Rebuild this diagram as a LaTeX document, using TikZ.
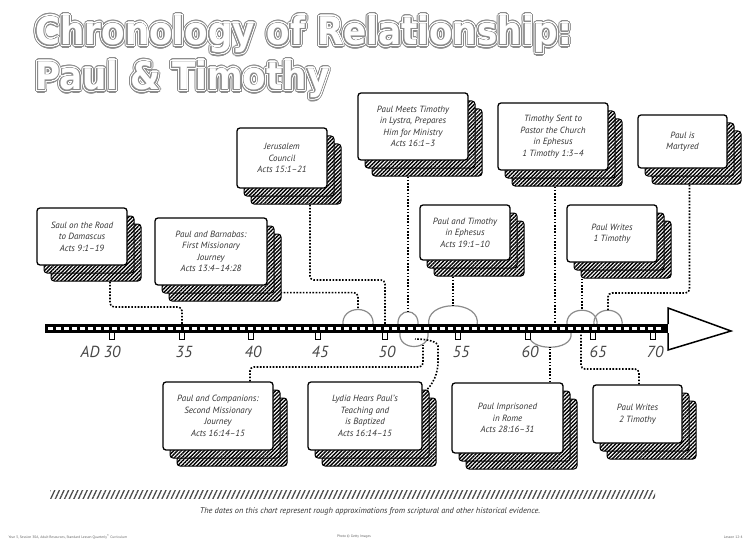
\documentclass[tikz,border=0pt]{standalone}
\usepackage{fontspec}
\usepackage{graphicx}
\usepackage[copies]{contour}
\setmainfont{PT Sans}
\usetikzlibrary{patterns.meta}
\pgfdeclarelayer{bg}
\pgfdeclarelayer{back}
\pgfsetlayers{bg,back,main}
\font\tD="DejaVu Sans/B" at 38pt
\contournumber{32}
\newcommand\cardtxt{\fontsize{9}{11.5}\selectfont\itshape}
\newcommand\yeartxt{\fontsize{16}{16}\selectfont\itshape}
\newcommand\captxt{\fontsize{8.3}{9}\selectfont\itshape}
\newcommand\foottxt{\fontsize{3.6}{4}\selectfont}
\tikzset{
  cardfront/.style={draw=black, line width=1.3pt, fill=white, rounded corners=3pt, inner sep=0pt, align=center, font=\cardtxt, text=black!80},
  cardback/.style={draw=black, line width=1pt, rounded corners=3pt, pattern={Lines[angle=45,distance=2.7pt,line width=1.4pt]}},
  dotconn/.style={line width=1.6pt, dash pattern=on 1.6pt off 1.6pt, rounded corners=4pt},
  spanarc/.style={draw=black!45, line width=1.2pt},
  yearlbl/.style={font=\yeartxt, text=black!72, anchor=base},
  tickmark/.style={draw=black, line width=1pt, fill=white},
  titlelayer/.style={anchor=base west, inner sep=0pt},
}
\colorlet{titlegray}{black!45}
\newcommand\mycard[6]{%
  \foreach \sx/\sy in {14/16,7/8}{%
    \fill[white, rounded corners=3pt] (#2+\sx,#3+\sy) rectangle (#4+\sx,#5+\sy);
    \draw[cardback] (#2+\sx,#3+\sy) rectangle (#4+\sx,#5+\sy);
  }
  \node[cardfront, minimum width={(#4-#2)*1pt}, minimum height={(#5-#3)*1pt}] (#1) at ({(#2+#4)/2},{(#3+#5)/2}) {#6};
}
\newcommand\titleline[4]{%
  \node[titlelayer, text=titlegray] (#1a) at (#2,#3) {\scalebox{0.9}[1]{\contourlength{3.1pt}\contour{titlegray}{\tD #4}}};
  \node[titlelayer, text=white] (#1b) at (#2,#3) {\scalebox{0.9}[1]{\contourlength{2.0pt}\contour{white}{\tD #4}}};
  \node[titlelayer, text=titlegray] (#1c) at (#2,#3) {\scalebox{0.9}[1]{\contourlength{0.9pt}\contour{titlegray}{\tD #4}}};
  \node[titlelayer, text=white] (#1d) at (#2,#3) {\scalebox{0.9}[1]{\tD #4}};
}
\begin{document}
\begin{tikzpicture}[x=1pt,y=-1pt]
\begin{pgfonlayer}{bg}
\fill[white] (0,0) rectangle (751,548);
\end{pgfonlayer}
\useasboundingbox (0,0) rectangle (751,548);

% title
\titleline{ti}{35}{45}{Chronology of Relationship:}
\titleline{tj}{35}{90}{Paul \& Timothy}

% cards, top row
\mycard{saul}{37}{208}{127}{265}{Saul on the Road\\to Damascus\\Acts 9:1--19}
\mycard{pb}{155}{218}{267}{285}{Paul and Barnabas:\\First Missionary\\Journey\\Acts 13:4--14:28}
\mycard{jer}{237}{128}{327}{188}{Jerusalem\\Council\\Acts 15:1--21}
\mycard{meet}{358}{93}{468}{160}{Paul Meets Timothy\\in Lystra, Prepares\\Him for Ministry\\Acts 16:1--3}
\mycard{sent}{498}{103}{608}{170}{Timothy Sent to\\Pastor the Church\\in Ephesus\\1 Timothy 1:3--4}
\mycard{mart}{638}{115}{727}{168}{Paul is\\Martyred}
\mycard{eph}{420}{205}{510}{260}{Paul and Timothy\\in Ephesus\\Acts 19:1--10}
\mycard{wr1}{567}{205}{657}{262}{Paul Writes\\1 Timothy}
% cards, bottom row
\mycard{comp}{163}{382}{273}{450}{Paul and Companions:\\Second Missionary\\Journey\\Acts 16:14--15}
\mycard{lydia}{308}{382}{422}{450}{Lydia Hears Paul's\\Teaching and\\is Baptized\\Acts 16:14--15}
\mycard{rome}{452}{383}{563}{453}{Paul Imprisoned\\in Rome\\Acts 28:16--31}
\mycard{wr2}{593}{385}{682}{443}{Paul Writes\\2 Timothy}

% anchor points on the time line
\coordinate (t35) at (182,324);
\coordinate (t50) at (385,324);
\coordinate (t62) at (555,324);
\coordinate (t64) at (581,333);
\coordinate (arcA) at (358,309);
\coordinate (arcB) at (408,312);
\coordinate (arcC) at (453,306);
\coordinate (arcE) at (582,310);
\coordinate (arcF) at (608,310);
\coordinate (lowL) at (423,345);
\coordinate (lowLin) at (415,339);
\coordinate (lowR) at (550,347);

\begin{pgfonlayer}{back}
  % span arcs
  \draw[spanarc] (343,326) .. controls (340,304) and (376,304) .. (373,326);
  \draw[spanarc] (398,326) .. controls (396,307) and (420,307) .. (418,326);
  \draw[spanarc] (400,333) .. controls (398,351) and (430,351) .. (428,333);
  \draw[spanarc] (429,326) .. controls (423,299) and (483,299) .. (477,326);
  \draw[spanarc] (529,333) .. controls (526,352) and (574,352) .. (571,333);
  \draw[spanarc] (567,326) .. controls (564,305) and (600,305) .. (597,326);
  \draw[spanarc] (594,326) .. controls (591,305) and (625,305) .. (622,326);
  % connectors
  \draw[dotconn] ([xshift=28pt]saul.south) |- (146,307) -| (t35);
  \draw[dotconn] ([yshift=-7pt]pb.south east) -| (arcA);
  \draw[dotconn] ([xshift=28pt]jer.south) |- (346,280) -| (t50);
  \draw[dotconn] (meet.south -| arcB) -- (arcB);
  \draw[dotconn] (eph.south -| arcC) -- (arcC);
  \draw[dotconn] (sent.south -| t62) -- (t62);
  \draw[dotconn] (wr1.south -| arcE) -- (arcE);
  \draw[dotconn] ([xshift=7pt]mart.south) |- (650,293) -| (arcF);
  \draw[dotconn] ([xshift=32pt]comp.north) |- (330,367) -| (lowL);
  \draw[dotconn] ([yshift=-12pt]lydia.north east) .. controls (434,385) and (438,372) .. (438,358) -- (438,350) .. controls (438,342) and (428,339) .. (lowLin);
  \draw[dotconn] (rome.north -| lowR) -- (lowR);
  \draw[dotconn] ([xshift=1.5pt]wr2.north) |- (610,369) -| (t64);
\end{pgfonlayer}

% time line bar
\fill[black] (45,324) rectangle (668,333);
\foreach \x in {48,56,...,662}{\fill[white] (\x,327.2) rectangle (\x+4.5,329.8);}
\draw[line width=1.5pt, fill=white, line join=miter] (668,324) -- (668,308) -- (731,331) -- (668,350) -- (668,333);
\foreach \x in {112,182,251,318,385,458,528,593,653}{
  \draw[tickmark] (\x-2.5,333) -- (\x-2.5,339) -- (\x+2.5,339) -- (\x+2.5,333);
}
% year labels
\node[yearlbl, anchor=base east] (y30) at (124,357) {AD 30};
\node[yearlbl] (y35) at (184,357) {35};
\node[yearlbl] (y40) at (253,357) {40};
\node[yearlbl] (y45) at (320,357) {45};
\node[yearlbl] (y50) at (387,357) {50};
\node[yearlbl] (y55) at (461,357) {55};
\node[yearlbl] (y60) at (530,357) {60};
\node[yearlbl] (y65) at (598,357) {65};
\node[yearlbl] (y70) at (655,357) {70};

% bottom note
\fill[pattern={Lines[angle=65,distance=4.2pt,line width=1.3pt]}, pattern color=black!70] (50,490) rectangle (655,498);
\node[font=\captxt, text=black!80] (cap) at (370,511) {The dates on this chart represent rough approximations from scriptural and other historical evidence.};
\node[font=\foottxt, text=black!60, anchor=west] (f1) at (5,537) {Year 3, Session 30A, Adult Resources, Standard Lesson Quarterly\textsuperscript{\textregistered} Curriculum};
\node[font=\foottxt, text=black!60] (f2) at (354,537) {Photo \textcopyright{} Getty Images};
\node[font=\foottxt, text=black!60, anchor=east] (f3) at (746,537) {Lesson 12-4};
\end{tikzpicture}
\end{document}
